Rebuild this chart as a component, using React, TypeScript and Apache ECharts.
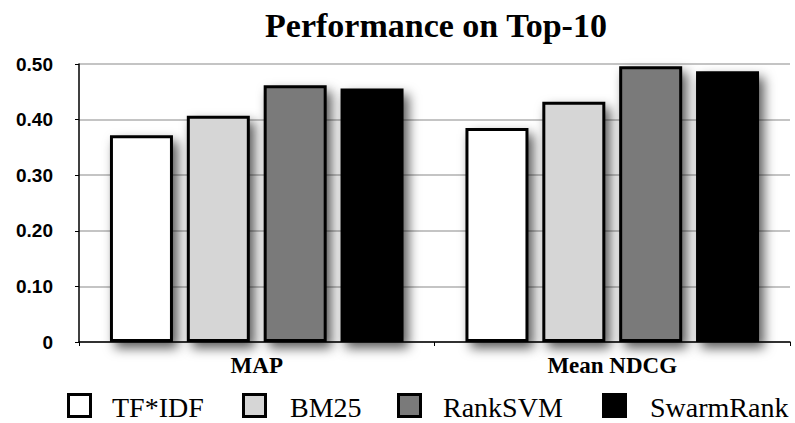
import React, { useEffect, useRef } from "react";
import * as echarts from "echarts";

const categories = ["MAP", "Mean NDCG"];
const seriesNames = ["TF*IDF", "BM25", "RankSVM", "SwarmRank"];
const tfidf = [0.372, 0.385];
const bm25 = [0.407, 0.432];
const ranksvm = [0.462, 0.496];
const swarmrank = [0.456, 0.487];
const seriesColors = ["#ffffff", "#d6d6d6", "#7a7a7a", "#000000"];
const yTicks = [0, 0.1, 0.2, 0.3, 0.4, 0.5];

const SERIF = "'Liberation Serif', 'Times New Roman', serif";
const SANS = "'Liberation Sans', Arial, sans-serif";

// legend layout (x of each square's left edge, x of each label)
const legendSquareX = [67, 242, 397, 602];
const legendTextX = [112, 290, 443, 650];

export default function App() {
  const ref = useRef<HTMLDivElement>(null);
  useEffect(() => {
    if (!ref.current) return;
    const chart = echarts.init(ref.current, null, { renderer: "svg" });
    const values = [tfidf, bm25, ranksvm, swarmrank];
    const legendGraphics: any[] = [];
    seriesNames.forEach((name, i) => {
      legendGraphics.push({
        type: "rect",
        shape: { x: legendSquareX[i] + 1.5, y: 394.5, width: 22, height: 22 },
        style: { fill: seriesColors[i], stroke: "#000", lineWidth: 3 },
      });
      legendGraphics.push({
        type: "text",
        x: legendTextX[i],
        y: 407,
        style: {
          text: name,
          fontFamily: SERIF,
          fontSize: 28,
          fill: "#000",
          textAlign: "left",
          textVerticalAlign: "middle",
        },
      });
    });
    chart.setOption({
      animation: false,
      backgroundColor: "#ffffff",
      textStyle: { fontFamily: SERIF, color: "#000" },
      title: {
        text: "Performance on Top-10",
        left: 431,
        textAlign: "center",
        top: 3,
        textStyle: {
          fontFamily: SERIF,
          fontWeight: "bold",
          fontSize: 34,
          color: "#000",
        },
      },
      graphic: legendGraphics,
      grid: { left: 79, right: 5, top: 64, bottom: 81, containLabel: false },
      xAxis: {
        type: "category",
        data: categories,
        axisLine: { lineStyle: { color: "#000", width: 1.5 } },
        axisTick: { show: true, length: 4, inside: false, lineStyle: { color: "#000" } },
        axisLabel: {
          margin: 12,
          fontFamily: SERIF,
          fontWeight: "bold",
          fontSize: 23,
          color: "#000",
        },
      },
      yAxis: {
        type: "value",
        min: 0,
        max: 0.5,
        interval: 0.1,
        axisLine: { show: true, lineStyle: { color: "#000", width: 1.5 } },
        axisTick: { show: true, length: 4, lineStyle: { color: "#000" } },
        axisLabel: {
          margin: 26,
          fontFamily: SANS,
          fontWeight: "bold",
          fontSize: 19,
          color: "#000",
          formatter: (v: number) => {
            const t = yTicks.find((y) => Math.abs(y - v) < 1e-9);
            if (t === undefined) return "";
            return t === 0 ? "0" : t.toFixed(2);
          },
        },
        splitLine: { show: true, lineStyle: { color: "#b0b0b0", width: 1.5 } },
      },
      series: seriesNames.map((name, i) => ({
        name,
        type: "bar",
        data: values[i],
        barWidth: 63,
        barGap: "22%",
        itemStyle: {
          color: seriesColors[i],
          borderColor: "#000",
          borderWidth: 3,
          shadowBlur: 12,
          shadowOffsetX: 5,
          shadowOffsetY: 6,
          shadowColor: "rgba(0,0,0,0.65)",
        },
      })),
    });
    return () => chart.dispose();
  }, []);
  return (
    <div
      ref={ref}
      style={{ position: "fixed", left: 0, top: 0, width: 795, height: 423 }}
    />
  );
}
